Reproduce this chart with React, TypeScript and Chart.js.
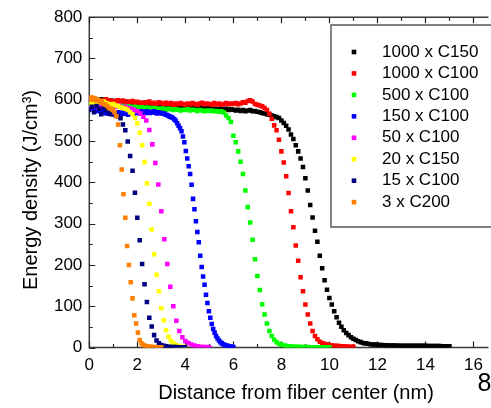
import React, { useEffect, useRef } from "react";
import { Chart, registerables } from "chart.js";

Chart.register(...registerables);

// ---------- data ----------
const seriesLabels = [
  "1000 x C150",
  "1000 x C100",
  "500 x C100",
  "150 x C100",
  "50 x C100",
  "20 x C150",
  "15 x C100",
  "3 x C200",
];
const seriesColors = ["#000000", "#ff0000", "#00ff00", "#0000ff", "#ff00ff", "#ffff00", "#000080", "#ff8000"];
// sampling step (nm) of each series, starting at 0 nm
const seriesStep = [0.1, 0.1, 0.1, 0.06, 0.125, 0.1, 0.1, 0.075];

const black1000C150 = [
  598, 602, 596, 600, 597, 601, 595, 599, 596, 598,
  594, 597, 593, 596, 592, 595, 591, 594, 590, 593,
  590, 592, 589, 591, 588, 590, 587, 589, 588, 586,
  588, 585, 587, 584, 586, 583, 585, 584, 582, 584,
  582, 583, 581, 583, 580, 582, 579, 581, 580, 578,
  580, 578, 579, 577, 578, 576, 577, 578, 575, 577,
  576, 574, 576, 573, 575, 572, 574, 575, 572, 573,
  571, 570, 568, 567, 565, 564, 562, 560, 558, 556,
  550, 544, 537, 528, 516, 505, 490, 475, 458, 437,
  410, 380, 345, 315, 283, 256, 222, 192, 163, 140,
  120, 104, 88, 73, 60, 50, 42, 35, 30, 25,
  21, 18, 15, 13, 11, 10, 9, 8, 7.5, 7,
  6.5, 6, 6, 5.5, 5.5, 5, 5, 5, 5, 4.5,
  4.5, 4.5, 4.5, 4, 4, 4, 4, 4, 4, 4,
  4, 3.5, 3.5, 3.5, 3.5, 3.5, 3.5, 3, 3, 3, 3,
];
const red1000C100 = [
  600, 596, 602, 598, 595, 599, 597, 601, 596, 598,
  594, 597, 599, 595, 598, 593, 596, 594, 597, 592,
  595, 593, 590, 594, 592, 596, 591, 593, 590, 594,
  592, 589, 593, 590, 592, 588, 591, 589, 592, 590,
  588, 591, 589, 592, 590, 588, 591, 593, 589, 591,
  590, 588, 592, 589, 591, 588, 590, 592, 589, 591,
  590, 592, 589, 591, 594, 593, 597, 599, 596, 590,
  588, 586, 584, 580, 575, 566, 554, 538, 526, 503,
  475, 448, 415, 374, 330, 291, 247, 210, 170, 136,
  104, 80, 58, 40, 28, 20, 14, 11, 9, 7,
  6, 5, 4.5, 4, 3.5, 3, 3, 2.5, 2, 2, 1.5,
];
const green500C100 = [
  590, 588, 591, 587, 589, 586, 588, 585, 587, 584,
  586, 584, 585, 583, 585, 582, 584, 583, 581, 583,
  582, 580, 582, 579, 581, 580, 578, 580, 579, 577,
  579, 578, 576, 578, 577, 575, 577, 576, 574, 576,
  575, 577, 574, 576, 575, 573, 575, 574, 572, 574,
  573, 574, 572, 573, 571, 572, 569, 562, 556, 546,
  513, 497, 475, 450, 420, 380, 340, 303, 261, 214,
  173, 139, 105, 80, 58, 40, 28, 19, 13, 9,
  7, 5, 4, 3, 2.5, 2, 1.5, 1.5, 1, 1,
  1, 1, 0.5, 0.5, 0.5, 0.5, 0.5, 0.5, 0.5, 0.5, 0.5,
];
const blue150C100 = [
  582, 586, 579, 584, 576, 580, 573, 577, 571, 575,
  569, 573, 567, 571, 566, 570, 568, 565, 569, 566,
  570, 567, 565, 569, 566, 570, 567, 564, 568, 566,
  569, 567, 571, 568, 570, 567, 572, 569, 571, 568,
  572, 570, 568, 571, 569, 572, 570, 567, 570, 568,
  568, 566, 567, 564, 563, 561, 559, 558, 556,
  553, 549, 543, 537, 531, 524, 511, 497, 476, 458,
  439, 420, 394, 360, 335, 306, 280, 255, 222, 195,
  172, 152, 128, 108, 88, 72, 57, 45, 36, 28,
  22, 17, 13, 10, 8, 6, 5, 4, 3, 2, 2, 1,
];
const magenta50C100 = [
  578, 583, 586, 580, 584, 587, 582, 585, 581, 584,
  586, 582, 583, 580, 578, 576, 572, 567,
  559, 550, 527, 492, 447, 395, 330, 262, 202, 147,
  100, 65, 40, 25, 16, 11, 7, 5, 3, 2, 1, 1, 0.5,
];
const yellow20C150 = [
  588, 592, 590, 595, 597, 594, 596, 592, 590, 588,
  590, 586, 585, 582, 580, 578, 575, 570, 565,
  556, 543, 520, 490, 449, 398, 348, 286, 226, 176,
  136, 95, 66, 42, 26, 16, 10, 6, 4, 2, 1, 1,
];
const navy15C100 = [
  575, 583, 570, 585, 578, 565, 580, 575, 570, 565,
  568, 562, 560, 555,
  540, 526, 499, 464, 428, 375, 314, 260, 202, 153,
  110, 72, 51, 30, 17, 10, 6, 4, 3, 2,
  1, 1, 1, 0.5, 0.5, 0.5, 0.5,
];
const orange3C200 = [
  603, 606, 600, 604, 598, 600, 596, 594, 590, 588,
  585, 580, 578, 575, 570, 560,
  540, 490, 431, 371, 314, 246, 200, 158, 119, 78,
  58, 36, 18, 10, 6, 4, 3, 2, 1.5, 1, 1, 0.5, 0.5, 0.5, 0.5,
];
const seriesValues = [
  black1000C150,
  red1000C100,
  green500C100,
  blue150C100,
  magenta50C100,
  yellow20C150,
  navy15C100,
  orange3C200,
];

const xMajorTicks = [0, 2, 4, 6, 8, 10, 12, 14, 16];
const xMinorTicks = [1, 3, 5, 7, 9, 11, 13, 15];
const yMajorTicks = [0, 100, 200, 300, 400, 500, 600, 700, 800];
const yMinorTicks = [50, 150, 250, 350, 450, 550, 650, 750];

const xTitle = "Distance from fiber center (nm)";
const yTitle = "Energy density (J/cm\u00B3)";
const pageNumber = "8";

const FONT = "'Liberation Sans', Arial, Helvetica, sans-serif";

const decorPlugin = {
  id: "decor",
  beforeDatasetsDraw(chart: any) {
    const { ctx, chartArea } = chart;
    const { left, top, right, bottom } = chartArea;
    const xs = chart.scales.x;
    const ys = chart.scales.y;
    ctx.save();
    ctx.strokeStyle = "#3a3a3a";
    ctx.lineWidth = 1.5;
    ctx.beginPath();
    ctx.moveTo(right + 3, top);
    ctx.lineTo(left, top);
    ctx.lineTo(left, bottom);
    ctx.lineTo(right + 3, bottom);
    ctx.stroke();

    ctx.lineWidth = 1.2;
    ctx.strokeStyle = "#222";
    ctx.beginPath();
    const xt = (v: number, len: number) => {
      const p = Math.round(xs.getPixelForValue(v)) + 0.5;
      ctx.moveTo(p, bottom);
      ctx.lineTo(p, bottom - len);
      ctx.moveTo(p, top);
      ctx.lineTo(p, top + len);
    };
    const yt = (v: number, len: number) => {
      const p = Math.round(ys.getPixelForValue(v)) + 0.5;
      ctx.moveTo(left, p);
      ctx.lineTo(left + len, p);
    };
    xMajorTicks.forEach((v) => xt(v, 6));
    xMinorTicks.forEach((v) => xt(v, 3.5));
    yMajorTicks.forEach((v) => yt(v, 6));
    yMinorTicks.forEach((v) => yt(v, 3.5));
    ctx.stroke();
    ctx.restore();
  },
  afterDraw(chart: any) {
    const { ctx, chartArea } = chart;
    ctx.save();
    // legend
    ctx.strokeStyle = "#5a5a5a";
    ctx.lineWidth = 1.5;
    ctx.strokeRect(331, 25, 200, 202);
    ctx.font = `17px ${FONT}`;
    ctx.textBaseline = "middle";
    ctx.textAlign = "left";
    seriesLabels.forEach((label, i) => {
      const cy = 52 + i * 21.45;
      ctx.fillStyle = seriesColors[i];
      ctx.fillRect(354 - 2.3, cy - 2.3, 4.6, 4.6);
      ctx.fillStyle = "#000";
      ctx.fillText(label, 382, cy);
    });

    // axis titles
    ctx.font = `20px ${FONT}`;
    ctx.fillStyle = "#000";
    ctx.textAlign = "center";
    ctx.textBaseline = "middle";
    ctx.fillText(xTitle, 296, 393);
    ctx.save();
    ctx.translate(31, 190);
    ctx.rotate(-Math.PI / 2);
    ctx.fillText(yTitle, 0, 0);
    ctx.restore();

    // page number
    ctx.font = `25px ${FONT}`;
    ctx.textAlign = "center";
    ctx.fillText(pageNumber, 484.5, 384);
    ctx.restore();
  },
};

export default function App() {
  const canvasRef = useRef<HTMLCanvasElement | null>(null);

  useEffect(() => {
    const canvas = canvasRef.current;
    if (!canvas) return;
    Chart.defaults.font.family = FONT;

    const datasets = seriesValues.map((vals, i) => ({
      label: seriesLabels[i],
      data: vals.map((v, j) => ({ x: +(j * seriesStep[i]).toFixed(4), y: v })),
      showLine: false,
      pointStyle: "rect" as const,
      pointRadius: 3.2,
      pointHoverRadius: 3.2,
      pointBorderWidth: 0,
      pointBackgroundColor: seriesColors[i],
      pointBorderColor: seriesColors[i],
      backgroundColor: seriesColors[i],
      borderColor: seriesColors[i],
      order: seriesValues.length - i,
    }));

    const chart = new Chart(canvas, {
      type: "scatter",
      data: { datasets },
      options: {
        animation: false,
        responsive: false,
        events: [],
        layout: { padding: { left: 0, right: 0, top: 14, bottom: 0 } },
        plugins: {
          legend: { display: false },
          tooltip: { enabled: false },
          title: { display: false },
        },
        scales: {
          x: {
            type: "linear",
            min: 0,
            max: 16.5,
            grid: { display: false, drawTicks: false },
            border: { display: false },
            ticks: {
              stepSize: 2,
              includeBounds: false,
              autoSkip: false,
              maxRotation: 0,
              minRotation: 0,
              padding: 8,
              color: "#000",
              font: { size: 17, family: FONT },
            },
            afterFit: (s: any) => {
              s.height = 60.5;
            },
          },
          y: {
            type: "linear",
            min: 0,
            max: 800,
            grid: { display: false, drawTicks: false },
            border: { display: false },
            ticks: {
              stepSize: 100,
              padding: 7,
              color: "#000",
              font: { size: 17, family: FONT },
            },
            afterFit: (s: any) => {
              s.width = 89.3;
            },
          },
        },
      },
      plugins: [decorPlugin],
    });
    return () => chart.destroy();
  }, []);

  return (
    <div style={{ position: "fixed", left: 0, top: 0, width: 491, height: 408, background: "#fff" }}>
      <canvas ref={canvasRef} width={491} height={408} style={{ display: "block", width: 491, height: 408 }} />
    </div>
  );
}
